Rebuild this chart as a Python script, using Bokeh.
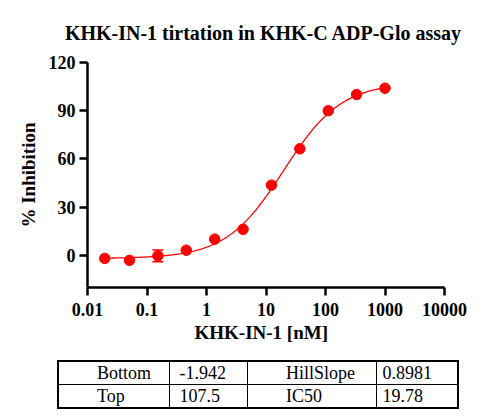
import numpy as np
from bokeh.plotting import figure
from bokeh.layouts import column
from bokeh.models import (Range1d, FixedTicker, ColumnDataSource, Whisker, TeeHead,
                          CustomJSTickFormatter, Div)
from bokeh.embed import file_html
from bokeh.resources import INLINE

# ---- data ----
conc_nM = [0.0195, 0.0508, 0.1524, 0.4572, 1.372, 4.115, 12.35, 37.04, 111.1, 333.3, 1000.0]
inhibition = [-1.9, -3.1, -0.3, 3.2, 10.1, 16.2, 43.7, 66.3, 90.0, 100.1, 104.0]
inhibition_err = [0, 0, 3.6, 0, 0, 0, 0, 0, 0, 0, 0]

x_ticks = [0.01, 0.1, 1, 10, 100, 1000, 10000]
x_tick_labels = ["0.01", "0.1", "1", "10", "100", "1000", "10000"]
y_ticks = [0, 30, 60, 90, 120]

fit_bottom = -1.942
fit_top = 107.5
fit_hill = 0.8981
fit_ic50 = 19.78

table_names_left = ["Bottom", "Top"]
table_values_left = ["-1.942", "107.5"]
table_names_right = ["HillSlope", "IC50"]
table_values_right = ["0.8981", "19.78"]

title_text = "KHK-IN-1  tirtation in KHK-C ADP-Glo assay"
x_label = "KHK-IN-1   [nM]"
y_label = "% Inhibition"

RED = "#FF0000"
SERIF = "Liberation Serif"

# ---- main plot ----
p = figure(width=484, height=345, x_axis_type="log",
           x_range=Range1d(0.01, 10000), y_range=Range1d(-20, 120),
           output_backend="svg", toolbar_location=None,
           min_border_left=87, min_border_right=40,
           min_border_top=62, min_border_bottom=54)
p.outline_line_color = None
p.xgrid.visible = False
p.ygrid.visible = False
p.background_fill_color = "white"
p.border_fill_color = "white"

p.title.text = title_text
p.title.align = "center"
p.title.vertical_align = "top"
p.title.text_font = SERIF
p.title.text_font_style = "bold"
p.title.text_font_size = "20px"
p.title.text_color = "black"
p.title.standoff = 34

# fitted 4PL curve from the fit parameters shown in the table
xs = np.logspace(np.log10(conc_nM[0]), np.log10(conc_nM[-1]), 400)
ys = fit_bottom + (fit_top - fit_bottom) / (1.0 + (fit_ic50 / xs) ** fit_hill)
p.line(xs, ys, line_color=RED, line_width=1.3)

# error bars
err_idx = [i for i, e in enumerate(inhibition_err) if e > 0]
esrc = ColumnDataSource(dict(
    x=[conc_nM[i] for i in err_idx],
    lo=[inhibition[i] - inhibition_err[i] for i in err_idx],
    hi=[inhibition[i] + inhibition_err[i] for i in err_idx]))
wh = Whisker(source=esrc, base="x", lower="lo", upper="hi", dimension="height",
             line_color=RED, line_width=1.5,
             upper_head=TeeHead(size=11, line_color=RED, line_width=1.5),
             lower_head=TeeHead(size=11, line_color=RED, line_width=1.5))
p.add_layout(wh)

p.scatter(conc_nM, inhibition, size=10.5, marker="circle",
          fill_color=RED, line_color=RED)

xa = p.xaxis[0]
ya = p.yaxis[0]
xa.ticker = FixedTicker(ticks=x_ticks)
xa.formatter = CustomJSTickFormatter(
    args=dict(vals=x_ticks, labs=x_tick_labels),
    code="""
    const i = vals.findIndex(v => Math.abs(Math.log10(v) - Math.log10(tick)) < 1e-6);
    return i >= 0 ? labs[i] : '';
    """)
ya.ticker = FixedTicker(ticks=y_ticks)
xa.axis_label = x_label
ya.axis_label = y_label
for ax in (xa, ya):
    ax.axis_line_width = 2.5
    ax.axis_line_color = "black"
    ax.major_tick_line_width = 2.5
    ax.major_tick_line_color = "black"
    ax.major_tick_out = 8
    ax.major_tick_in = 0
    ax.minor_tick_line_color = None
    ax.major_label_text_font = SERIF
    ax.major_label_text_font_style = "bold"
    ax.major_label_text_font_size = "18px"
    ax.major_label_text_color = "black"
    ax.axis_label_text_font = SERIF
    ax.axis_label_text_font_style = "bold"
    ax.axis_label_text_font_size = "19px"
    ax.axis_label_text_color = "black"
xa.major_label_standoff = 7
xa.axis_label_standoff = 3
ya.major_label_standoff = 4
ya.axis_label_standoff = 7

# ---- parameter table (HTML) ----
col_widths = [111, 78.5, 128.5, 82]
col_pad = [38, 10, 38, 6]
rows = list(zip(table_names_left, table_values_left, table_names_right, table_values_right))
cells_html = ""
for r in rows:
    cells_html += '<tr style="height:23.5px">'
    for j, s in enumerate(r):
        cells_html += ('<td style="border:1.5px solid #000;padding:0 0 0 %spx;'
                       'white-space:nowrap;overflow:hidden;line-height:22px">%s</td>' % (col_pad[j], s))
    cells_html += "</tr>"
cols_html = "".join('<col style="width:%spx">' % w for w in col_widths)
html = ('<table style="border-collapse:collapse;table-layout:fixed;width:400px;'
        'margin:15px 0 0 57px;border:2.5px solid #000;color:#000;'
        "font-family:'Liberation Serif',serif;font-size:18px\">"
        '<colgroup>%s</colgroup>%s</table>' % (cols_html, cells_html))
table_div = Div(text=html, width=484, height=59, margin=0)

layout = column(p, table_div)
open("out.html", "w").write(file_html(layout, INLINE))
